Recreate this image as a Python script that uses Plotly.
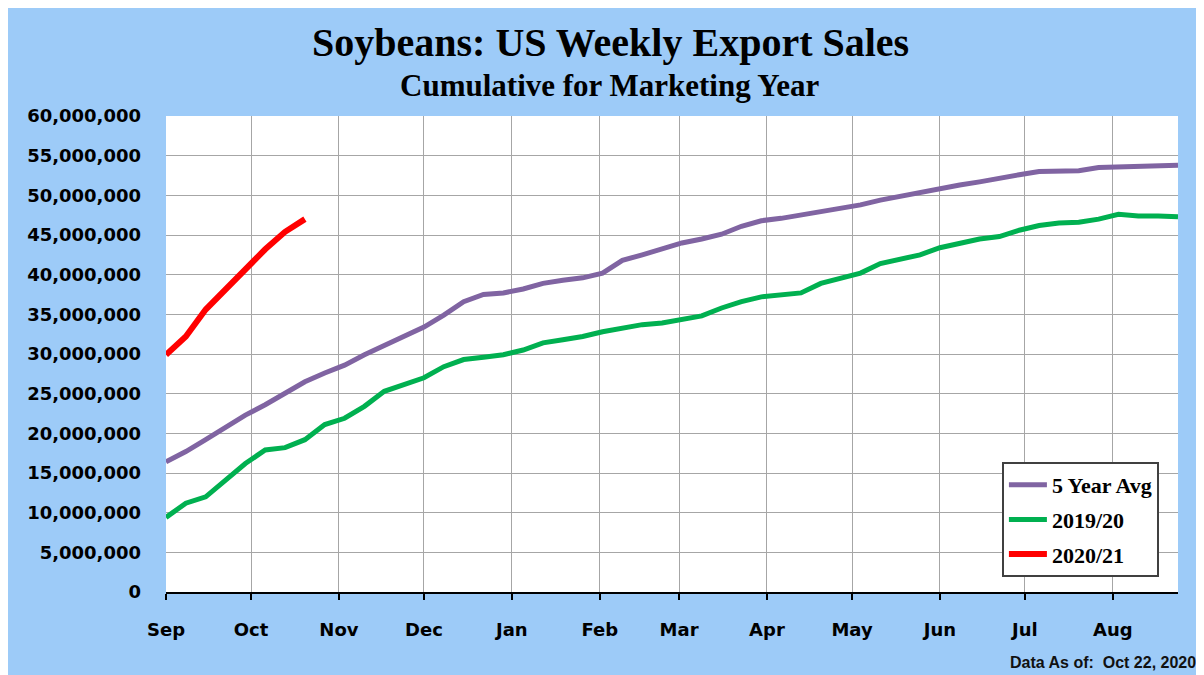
import plotly.graph_objects as go

# ---- data (millions of metric tons, cumulative weekly) ----
month_labels = ["Sep", "Oct", "Nov", "Dec", "Jan", "Feb", "Mar", "Apr", "May", "Jun", "Jul", "Aug"]
month_start_day = [0, 30, 61, 91, 122, 153, 181, 212, 242, 273, 303, 334]

five_year_avg = [16.4, 17.7, 19.2, 20.8, 22.3, 23.6, 25.1, 26.5, 27.6, 28.6, 29.9, 31.1, 32.2,
                 33.4, 34.9, 36.6, 37.5, 37.7, 38.2, 38.9, 39.3, 39.6, 40.2, 41.8, 42.5, 43.3,
                 44.0, 44.5, 45.1, 46.1, 46.8, 47.1, 47.5, 48.0, 48.4, 48.8, 49.4, 49.9, 50.4,
                 50.9, 51.3, 51.7, 52.2, 52.6, 53.0, 53.1, 53.1, 53.5, 53.6, 53.6, 53.7, 53.8]
y2019_20 = [9.4, 11.2, 12.0, 14.1, 16.2, 17.9, 18.2, 19.2, 21.1, 21.9, 23.4, 25.3, 26.1,
            27.0, 28.4, 29.3, 29.6, 29.9, 30.5, 31.4, 31.8, 32.2, 32.8, 33.3, 33.7, 33.9,
            34.3, 34.8, 35.8, 36.6, 37.2, 37.4, 37.7, 38.9, 39.6, 40.2, 41.4, 42.0, 42.5,
            43.4, 44.0, 44.5, 44.8, 45.6, 46.2, 46.5, 46.6, 47.0, 47.6, 47.4, 47.4, 47.3]
y2020_21 = [29.9, 32.2, 35.6, 38.2, 40.6, 43.2, 45.4, 47.0]

series_names = ["5 Year Avg", "2019/20", "2020/21"]
series_colors = ["#8064A2", "#00B050", "#FF0000"]

def days(n):
    return [7 * i for i in range(n)]

fig = go.Figure()
for name, vals, color, w in zip(series_names, [five_year_avg, y2019_20, y2020_21],
                                series_colors, [5, 5, 6]):
    fig.add_trace(go.Scatter(
        x=days(len(vals)), y=[v * 1e6 for v in vals], mode="lines", name=name,
        legendgroup=name, line=dict(color=color, width=w)))

BLUE = "#9DCBF8"
tick_font = dict(family="DejaVu Sans", size=18, color="#000000", weight="bold")

# page body has an 8px margin, so the figure is drawn 8px in from the top-left
fig.update_layout(
    width=1196, height=667,
    margin=dict(l=158, r=26, t=108, b=83),
    paper_bgcolor=BLUE, plot_bgcolor="#FFFFFF",
    showlegend=True,
    legend=dict(x=0.826, y=0.273, xanchor="left", yanchor="top",
                bgcolor="#FFFFFF", bordercolor="#404040", borderwidth=2,
                font=dict(family="Liberation Serif", size=22, color="#000000", weight="bold"),
                tracegroupgap=3, traceorder="grouped", itemwidth=38),
    xaxis=dict(range=[0, 357], tickvals=month_start_day, ticktext=month_labels,
               showgrid=True, gridcolor="#A6A6A6", gridwidth=1,
               showline=True, linecolor="#000000", linewidth=2,
               ticks="outside", ticklen=6, tickwidth=2, tickcolor="#000000",
               tickfont=tick_font, ticklabelstandoff=14, zeroline=False, fixedrange=True),
    yaxis=dict(range=[0, 60e6], tickvals=[i * 5e6 for i in range(13)], tickformat=",d",
               showgrid=True, gridcolor="#A6A6A6", gridwidth=1,
               showline=False, ticks="", tickfont=tick_font, ticklabelstandoff=24,
               zeroline=False, fixedrange=True),
    annotations=[
        dict(text="<b>Soybeans: US Weekly Export Sales</b>", xref="paper", yref="paper",
             x=0.4397, y=1.1534, xanchor="center", yanchor="middle", showarrow=False,
             font=dict(family="Liberation Serif", size=40, color="#000000")),
        dict(text="<b>Cumulative for Marketing Year</b>", xref="paper", yref="paper",
             x=0.4383, y=1.0637, xanchor="center", yanchor="middle", showarrow=False,
             font=dict(family="Liberation Serif", size=31, color="#000000")),
        dict(text="<b>Data As of:  Oct 22, 2020</b>", xref="paper", yref="paper",
             x=1.0198, y=-0.149, xanchor="right", yanchor="middle", showarrow=False,
             font=dict(family="Liberation Sans", size=16, color="#111111")),
    ],
)

fig.write_html("out.html")
